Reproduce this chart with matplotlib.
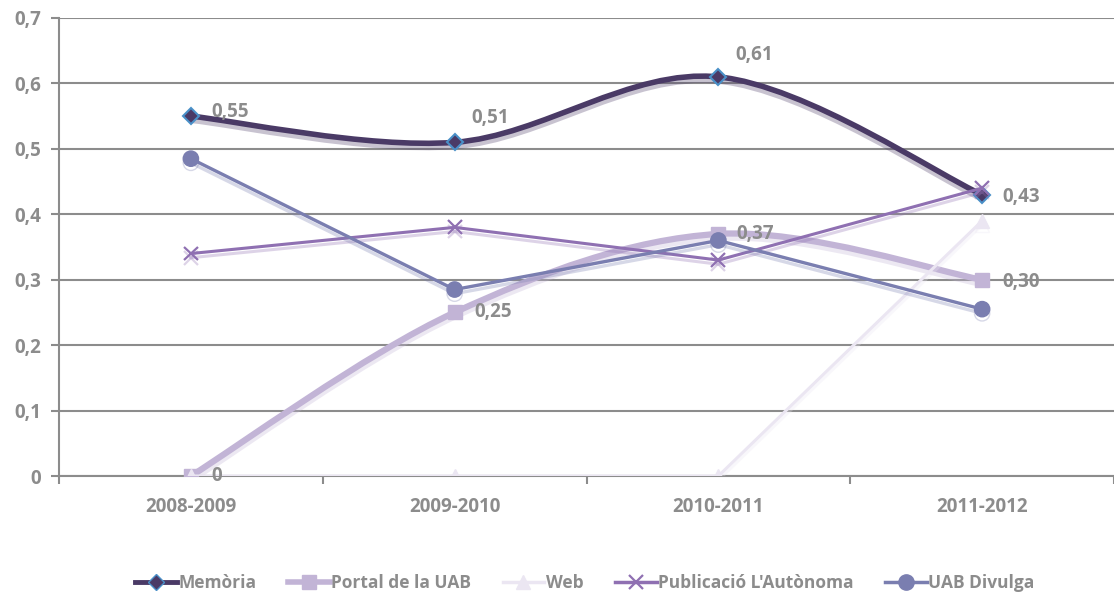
import matplotlib
matplotlib.use('Agg')
import matplotlib.pyplot as plt
import matplotlib.patheffects as pe
from matplotlib.path import Path
from matplotlib.patches import PathPatch
from matplotlib.lines import Line2D
import numpy as np

plt.rcParams['font.family'] = ['Open Sans', 'DejaVu Sans']

cursos = ['2008-2009', '2009-2010', '2010-2011', '2011-2012']
memoria = [0.55, 0.51, 0.61, 0.43]
portal = [0.0, 0.25, 0.37, 0.30]
web = [0.0, 0.0, 0.0, 0.39]
publicacio = [0.34, 0.38, 0.33, 0.44]
divulga = [0.485, 0.285, 0.36, 0.255]

noms = ['Memòria', 'Portal de la UAB', 'Web', "Publicació L'Autònoma", 'UAB Divulga']
colors = ['#4a3a66', '#c2b4d6', '#ebe6f2', '#8f70b2', '#7a7eb0']
gris = '#8c8c8c'


def smooth_path(xs, ys):
    # corba de Bézier tipus Excel (Catmull-Rom) que passa pels punts
    pts = list(zip(xs, ys))
    n = len(pts)
    verts = [pts[0]]
    codes = [Path.MOVETO]
    for i in range(n - 1):
        p0 = np.array(pts[max(i - 1, 0)])
        p1 = np.array(pts[i])
        p2 = np.array(pts[i + 1])
        p3 = np.array(pts[min(i + 2, n - 1)])
        c1 = p1 + (p2 - p0) / 6
        c2 = p2 - (p3 - p1) / 6
        verts += [tuple(c1), tuple(c2), tuple(p2)]
        codes += [Path.CURVE4] * 3
    return Path(verts, codes)


fig = plt.figure(figsize=(11.14, 5.96), dpi=100)
ax = fig.add_axes([59 / 1114, 120 / 596, 1055 / 1114, 458 / 596])

x = np.arange(len(cursos))
ombra = lambda c: [pe.SimpleLineShadow(offset=(0, -3), shadow_color=c, alpha=0.3), pe.Normal()]

# Memòria (suavitzada)
ax.add_patch(PathPatch(smooth_path(x, memoria), fill=False, edgecolor=colors[0], lw=4,
                       path_effects=ombra(colors[0]), zorder=3))
ax.plot(x, memoria, ls='none', marker='D', ms=8, mfc=colors[0], mec='#4a90c8', mew=1.5, zorder=4)

# Portal de la UAB (suavitzada)
ax.add_patch(PathPatch(smooth_path(x, portal), fill=False, edgecolor=colors[1], lw=4.5,
                       path_effects=ombra(colors[1]), zorder=3))
ax.plot(x, portal, ls='none', marker='s', ms=10, color=colors[1], zorder=4)

ax.plot(x, web, color=colors[2], lw=2.2, marker='^', ms=10, zorder=4, path_effects=ombra(colors[2]))
ax.plot(x, publicacio, color=colors[3], lw=2.2, marker='x', ms=10, mew=1.6, zorder=5,
        path_effects=ombra(colors[3]))
ax.plot(x, divulga, color=colors[4], lw=2.4, marker='o', ms=11, zorder=5, path_effects=ombra(colors[4]))

# etiquetes de dades
offs_mem = [(20, 4), (17, 24), (17, 22), (20, -2)]
for xi, v, o in zip(x, memoria, offs_mem):
    ax.annotate(f'{v:.2f}'.replace('.', ','), (xi, v), textcoords='offset pixels', xytext=o,
                ha='left', va='center', fontsize=13.5, fontweight='bold', color=gris, zorder=6)
offs_por = [(20, 0), (20, 0), (18, 0), (20, -2)]
for xi, v, o in zip(x, portal, offs_por):
    txt = '0' if v == 0 else f'{v:.2f}'.replace('.', ',')
    ax.annotate(txt, (xi, v), textcoords='offset pixels', xytext=o,
                ha='left', va='center', fontsize=13.5, fontweight='bold', color=gris, zorder=6)

ax.set_xlim(-0.5, 3.46)
ax.set_ylim(0, 0.7)
ax.set_yticks(np.arange(0, 0.71, 0.1))
ax.set_yticklabels(['0'] + [f'0,{i}' for i in range(1, 8)])
ax.set_xticks(x)
ax.set_xticklabels(cursos)
ax.set_xticks(np.arange(-0.5, 3.6, 1), minor=True)
ax.tick_params(axis='x', which='major', length=0, pad=15)
ax.tick_params(axis='x', which='minor', length=6, width=1.5, color=gris, direction='out')
ax.tick_params(axis='y', length=6, width=1.5, color=gris, pad=7)
for lab in ax.get_xticklabels() + ax.get_yticklabels():
    lab.set_fontsize(13.5)
    lab.set_fontweight('bold')
    lab.set_color(gris)

ax.grid(axis='y', color=gris, lw=1.5)
ax.set_axisbelow(True)
for s in ['top', 'right']:
    ax.spines[s].set_visible(False)
ax.spines['left'].set_color(gris)
ax.spines['left'].set_linewidth(1.5)
ax.spines['bottom'].set_color(gris)
ax.spines['bottom'].set_linewidth(1.5)

handles = [
    Line2D([], [], color=colors[0], lw=3.5, marker='D', ms=8, mfc=colors[0], mec='#4a90c8'),
    Line2D([], [], color=colors[1], lw=4, marker='s', ms=10),
    Line2D([], [], color=colors[2], lw=2.5, marker='^', ms=10),
    Line2D([], [], color=colors[3], lw=2.5, marker='x', ms=10, mew=1.6),
    Line2D([], [], color=colors[4], lw=2.5, marker='o', ms=11),
]
leg = fig.legend(handles, noms, loc='center', bbox_to_anchor=(585 / 1114, 1 - 583 / 596), ncol=5,
                 frameon=False, handlelength=2.4, handletextpad=0.1, columnspacing=1.8,
                 prop={'weight': 'bold', 'size': 12.5})
for t in leg.get_texts():
    t.set_color(gris)

fig.savefig('out.png', dpi=100)
